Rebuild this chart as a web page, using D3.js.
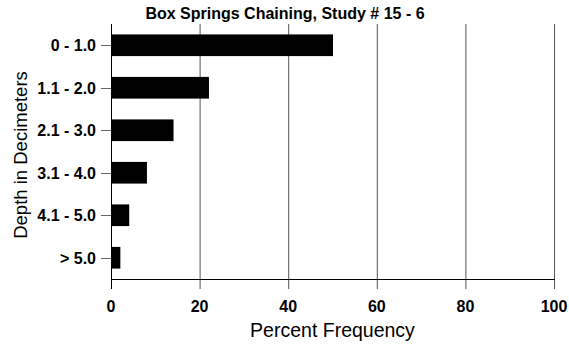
<!DOCTYPE html>
<html><head><meta charset="utf-8">
<script src="https://cdn.jsdelivr.net/npm/d3@7"></script>
<style>body{margin:0;background:#fff}svg{display:block}text{font-family:"Liberation Sans",Arial,sans-serif}</style>
</head><body>
<script>
const categories = ["0 - 1.0","1.1 - 2.0","2.1 - 3.0","3.1 - 4.0","4.1 - 5.0","> 5.0"];
const values = [50, 22, 14, 8, 4, 2];
const xTicks = [0, 20, 40, 60, 80, 100];
const title = "Box Springs Chaining, Study # 15 - 6";
const xTitle = "Percent Frequency";
const yTitle = "Depth in Decimeters";

const W = 569, H = 345;
const m = {left: 111, right: 15, top: 24, bottom: 66};
const svg = d3.select("body").append("svg").attr("width", W).attr("height", H);
const x = d3.scaleLinear().domain([0, 100]).range([m.left, W - m.right]);
const y = d3.scaleBand().domain(categories).range([m.top, H - m.bottom]).paddingInner(0.49).paddingOuter(0.245);
const bottom = H - m.bottom;

// gridlines (extend below axis as ticks)
svg.append("g").selectAll("line").data(xTicks.filter(d => d > 0)).join("line")
  .attr("x1", d => x(d) + 0.5).attr("x2", d => x(d) + 0.5)
  .attr("y1", m.top).attr("y2", bottom + 10)
  .attr("stroke", "#555").attr("stroke-width", 1);

// bars
svg.append("g").selectAll("rect").data(values).join("rect")
  .attr("x", x(0) + 0.5).attr("y", (d, i) => y(categories[i]))
  .attr("width", d => x(d) - x(0)).attr("height", y.bandwidth())
  .attr("fill", "#000");

// y axis line
svg.append("line").attr("x1", x(0) + 0.5).attr("x2", x(0) + 0.5)
  .attr("y1", m.top).attr("y2", bottom + 10).attr("stroke", "#000");
// x axis line
svg.append("line").attr("x1", x(0)).attr("x2", x(100) + 1)
  .attr("y1", bottom + 0.5).attr("y2", bottom + 0.5).attr("stroke", "#000");

// y ticks + labels
const yt = svg.append("g").selectAll("g").data(categories).join("g")
  .attr("transform", d => `translate(0,${Math.round(y(d) + y.bandwidth() / 2) + 0.5})`);
yt.append("line").attr("x1", x(0) - 10).attr("x2", x(0)).attr("stroke", "#666");
yt.append("text").attr("x", x(0) - 15).attr("dy", "0.35em").attr("text-anchor", "end")
  .attr("font-size", 16).attr("font-weight", "bold").text(d => d);

// x tick labels
svg.append("g").selectAll("text").data(xTicks).join("text")
  .attr("x", d => x(d)).attr("y", 312).attr("text-anchor", "middle")
  .attr("font-size", 16).attr("font-weight", "bold").text(d => d);

// titles
svg.append("text").attr("x", 285).attr("y", 19).attr("text-anchor", "middle")
  .attr("font-size", 16).attr("font-weight", "bold").text(title);
svg.append("text").attr("x", (x(0) + x(100)) / 2).attr("y", 337).attr("text-anchor", "middle")
  .attr("font-size", 19.5).text(xTitle);
svg.append("text").attr("transform", `translate(27,155) rotate(-90)`)
  .attr("text-anchor", "middle").attr("font-size", 18.5).text(yTitle);
</script>
</body></html>
